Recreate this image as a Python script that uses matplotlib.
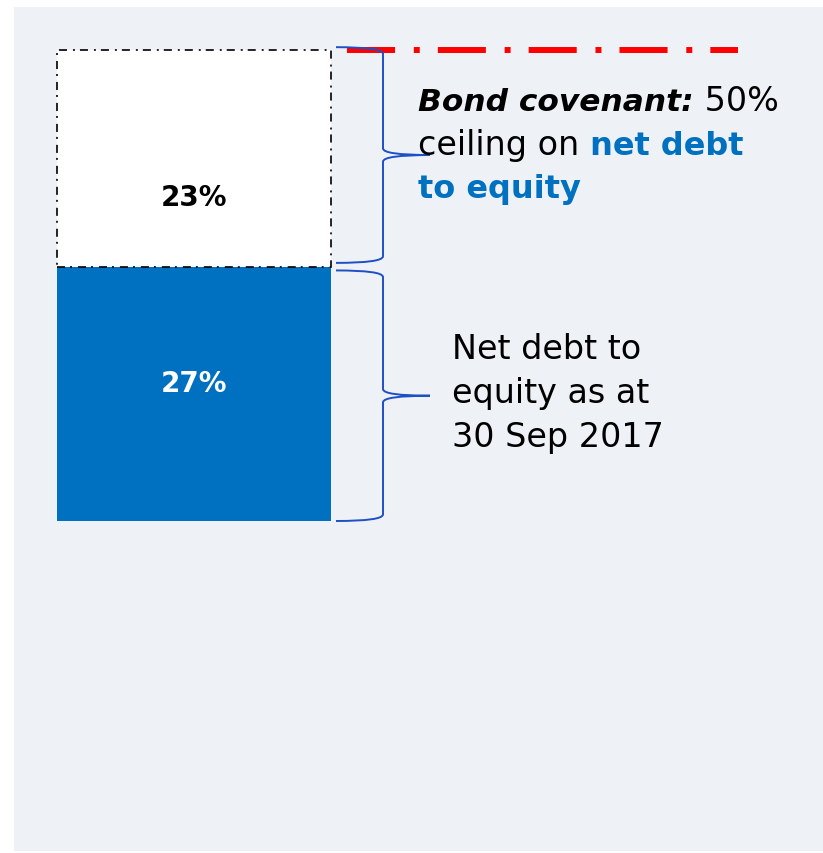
import matplotlib
matplotlib.use("Agg")
import matplotlib.pyplot as plt
import numpy as np
from matplotlib.patches import Rectangle, PathPatch
from matplotlib.path import Path

# data
segments = ["Net debt to equity", "Headroom to covenant"]
values = [27, 23]
labels = ["27%", "23%"]
ceiling = 50

BLUE = "#0070C0"
BRACE = "#1E4FC4"
BG = "#EEF2F6"

W, H = 823, 854
plt.rcParams["font.family"] = ["DejaVu Sans"]
plt.rcParams["lines.scale_dashes"] = False

fig = plt.figure(figsize=(W / 100, H / 100), dpi=100, facecolor="white")
fig.patches.append(Rectangle((14 / W, 2 / H), 809 / W, 844 / H, transform=fig.transFigure,
                             facecolor=BG, edgecolor="none", zorder=-5))

ax = fig.add_axes([0, 0, 1, 1])
ax.set_axis_off()
ax.patch.set_alpha(0)
# x in pixels; y in percent: 0 at pixel row 522, 50 at row 51
px_per_pct = (522 - 51) / ceiling
ax.set_xlim(0, W)
ax.set_ylim((522 - H) / px_per_pct, 522 / px_per_pct)

bar_x, bar_w = 57, 274
ax.bar(bar_x, values[0], width=bar_w, align="edge", color=BLUE, zorder=3)
ax.bar(bar_x, values[1], width=bar_w, bottom=values[0], align="edge", color="white",
       edgecolor="black", linewidth=1.2, linestyle=(0, (5.8, 3.6, 1.4, 4.3)), zorder=3)

cx = bar_x + bar_w / 2
ax.text(cx, values[0] / 2 + 1.2, labels[0], ha="center", va="center", color="white",
        fontsize=20, fontweight="bold", zorder=4)
ax.text(cx, values[0] + values[1] * 0.32, labels[1], ha="center", va="center", color="black",
        fontsize=20, fontweight="bold", zorder=4)

# covenant ceiling line
ax.plot([347, 738], [ceiling, ceiling], color="#FF0000", linewidth=4.3,
        linestyle=(0, (34.6, 13.5, 4.3, 13)), solid_capstyle="butt", zorder=4)


def brace(x0, y0, y1, spine=47, tip=47, k=0.7):
    # vertical curly brace from y0 (bottom) to y1 (top), opening to the left
    ym = (y0 + y1) / 2
    xs = x0 + spine
    xt = xs + tip
    verts = [
        (x0, y1), (xs, y1), (xs, y1 - k),
        (xs, ym + k),
        (xs, ym), (xt, ym),
        (xs, ym), (xs, ym - k),
        (xs, y0 + k),
        (xs, y0), (x0, y0),
    ]
    codes = [Path.MOVETO, Path.CURVE3, Path.CURVE3, Path.LINETO,
             Path.CURVE3, Path.CURVE3, Path.CURVE3, Path.CURVE3,
             Path.LINETO, Path.CURVE3, Path.CURVE3]
    ax.add_patch(PathPatch(Path(verts, codes), fill=False, edgecolor=BRACE,
                           linewidth=1.4, zorder=5))


brace(336, values[0] + 0.4, ceiling + 0.3)
brace(336, 0, values[0] - 0.4)


def rich_line(x_px, base_px, parts):
    # consecutive text pieces sharing one baseline
    yb = 1 - base_px / H
    prev = None
    for txt, kw in parts:
        if prev is None:
            prev = fig.text(x_px / W, yb, txt, va="baseline", **kw)
        else:
            prev = ax.annotate(txt, xy=(1, yb), xycoords=(prev, "figure fraction"),
                               va="baseline", **kw)


fs = 24
rich_line(418, 111, [("Bond covenant:", dict(fontsize=22.5, fontweight="bold", fontstyle="italic")),
                     (" 50%", dict(fontsize=fs))])
rich_line(418, 155, [("ceiling on", dict(fontsize=fs)),
                     (" net debt", dict(fontsize=23, fontweight="bold", color=BLUE))])
rich_line(418, 198, [("to equity", dict(fontsize=23, fontweight="bold", color=BLUE))])

for i, line in enumerate(["Net debt to", "equity as at", "30 Sep 2017"]):
    fig.text(452 / W, 1 - (359 + 44 * i) / H, line, fontsize=fs, va="baseline")

fig.savefig("out.png", dpi=100, facecolor="white")
